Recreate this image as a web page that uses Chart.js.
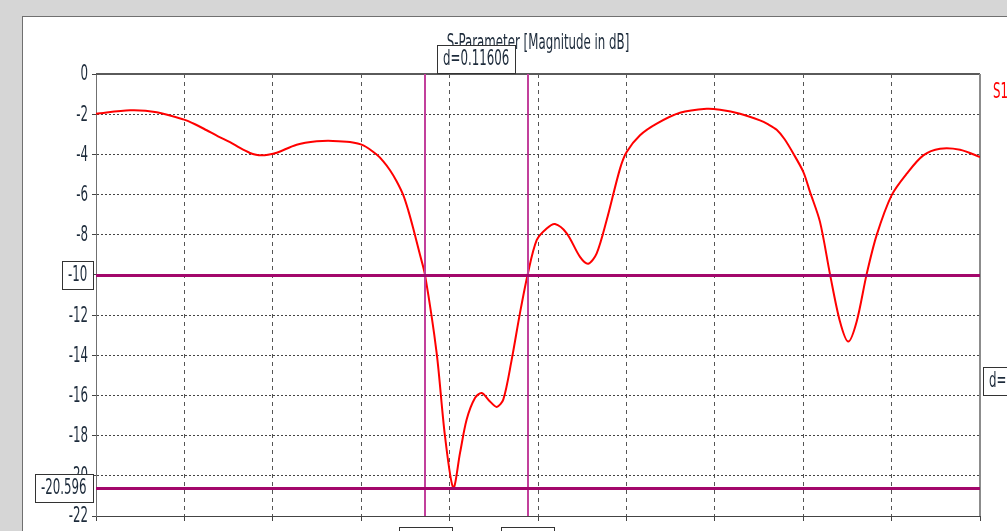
<!DOCTYPE html>
<html>
<head>
<meta charset="utf-8">
<script src="https://cdn.jsdelivr.net/npm/chart.js@4.4.1/dist/chart.umd.min.js"></script>
<style>
  html, body { margin: 0; padding: 0; }
  body { width: 1007px; height: 531px; overflow: hidden; position: relative; background: #d6d6d6; }
  #panel { position: absolute; left: 22px; top: 16px; width: 1000px; height: 530px; background: #fff;
           border-left: 1px solid #707070; border-top: 1px solid #707070; }
  #wrap { position: absolute; left: 0; top: 0; width: 1007px; height: 531px; }
</style>
</head>
<body>
<div id="panel"></div>
<div id="wrap"><canvas id="sChart" width="1007" height="531"></canvas></div>
<script>
// Данные кривой S1,1 (частота в ГГц, уровень в дБ)
const freqGHz = [
  2.000, 2.0385, 2.0687, 2.0988, 2.1120, 2.1252, 2.1380, 2.1516, 2.1629, 2.1742,
  2.1810, 2.1874, 2.1946, 2.2044, 2.2270, 2.2497, 2.2680, 2.2873, 2.3024, 2.3175,
  2.3250, 2.3326, 2.3402, 2.3476, 2.3533, 2.3589, 2.3665, 2.3722,
  2.3854, 2.3948, 2.4042, 2.4118, 2.4193, 2.4287, 2.4363, 2.4457, 2.4533, 2.4607,
  2.4702, 2.4796, 2.4882, 2.4985, 2.5098, 2.5192, 2.5325, 2.5475, 2.5569, 2.5664,
  2.5777, 2.5928, 2.6003, 2.6154, 2.6343, 2.6606, 2.6908, 2.7059, 2.7285, 2.7511,
  2.7600, 2.7700, 2.7790, 2.7888, 2.8001, 2.8077, 2.8190, 2.8303, 2.8416, 2.8510,
  2.8605, 2.8718, 2.8831, 2.9001, 2.9171, 2.9359, 2.9548, 2.9774, 3.000
];
const s11dB = [
  -1.98, -1.81, -1.90, -2.26, -2.50, -2.80, -3.10, -3.39, -3.68, -3.93,
  -4.02, -4.05, -4.02, -3.92, -3.52, -3.35, -3.33, -3.38, -3.55, -4.01,
  -4.35, -4.79, -5.35, -6.03, -6.80, -7.69, -9.00, -10.0,
  -13.9, -18.03, -20.596, -18.86, -17.2, -16.13, -15.88, -16.3, -16.57, -16.21,
  -14.23, -11.9, -10.0, -8.27, -7.69, -7.47, -7.93, -9.10, -9.44, -8.93,
  -7.27, -4.71, -3.88, -3.05, -2.47, -1.93, -1.73, -1.78, -1.98, -2.31,
  -2.50, -2.78, -3.25, -3.96, -4.87, -5.87, -7.36, -9.96, -12.32, -13.32,
  -12.32, -9.96, -8.02, -6.03, -4.96, -4.05, -3.72, -3.77, -4.13
];
const yTickValues = [0, -2, -4, -6, -8, -10, -12, -14, -16, -18, -20, -22];
const xGridFreqs = [2.0, 2.1, 2.2, 2.3, 2.4, 2.5, 2.6, 2.7, 2.8, 2.9, 3.0];
const markerFreqs = [2.3722, 2.48826];
const markerLevels = [-10, -20.596];

const FONT = '21px "DejaVu Sans Condensed", "Liberation Sans Narrow", sans-serif';
const SX = 0.625; // узкий шрифт, как на скриншоте
const TEXT_COLOR = '#1d2b3b';

// Текст со сжатием по горизонтали
function drawText(ctx, text, x, y, align, color) {
  ctx.save();
  ctx.font = FONT;
  ctx.fillStyle = color || TEXT_COLOR;
  ctx.textAlign = align;
  ctx.textBaseline = 'middle';
  ctx.translate(x, y);
  ctx.scale(SX, 1);
  ctx.fillText(text, 0, 0);
  ctx.restore();
}
function textWidth(ctx, text) {
  ctx.font = FONT;
  return ctx.measureText(text).width * SX;
}

// Прямоугольник с подписью
function drawBox(ctx, text, left, top, height) {
  const w = Math.round(textWidth(ctx, text)) + 12;
  ctx.save();
  ctx.fillStyle = '#fff';
  ctx.fillRect(left, top, w, height);
  ctx.strokeStyle = '#333';
  ctx.lineWidth = 1;
  ctx.strokeRect(left + 0.5, top + 0.5, w, height);
  ctx.restore();
  drawText(ctx, text, left + 6, top + height / 2 + 1, 'left');
  return w;
}
function boxWidth(ctx, text) {
  return Math.round(textWidth(ctx, text)) + 12;
}

const framePlugin = {
  id: 'frame',
  beforeDatasetsDraw(chart) {
    const { ctx, chartArea: a } = chart;
    ctx.save();
    ctx.strokeStyle = '#5a5a5a';
    ctx.lineWidth = 2;
    ctx.beginPath();
    ctx.moveTo(a.left, a.top);
    ctx.lineTo(a.right, a.top);
    ctx.stroke();
    ctx.strokeStyle = '#8c8c8c';
    ctx.beginPath();
    ctx.moveTo(a.right, a.top);
    ctx.lineTo(a.right, a.bottom);
    ctx.stroke();
    ctx.restore();
  }
};

const markerPlugin = {
  id: 'markers',
  afterDatasetsDraw(chart) {
    const { ctx, chartArea: a, scales: { x, y } } = chart;
    ctx.save();
    // вертикальные маркеры
    ctx.strokeStyle = '#c2409c';
    ctx.lineWidth = 2;
    markerFreqs.forEach(f => {
      const px = Math.round(x.getPixelForValue(f));
      ctx.beginPath();
      ctx.moveTo(px, a.top);
      ctx.lineTo(px, a.bottom);
      ctx.stroke();
    });
    // горизонтальные маркеры
    ctx.strokeStyle = '#a3076b';
    ctx.lineWidth = 3;
    markerLevels.forEach(v => {
      const py = Math.round(y.getPixelForValue(v)) + 0.5;
      ctx.beginPath();
      ctx.moveTo(a.left, py);
      ctx.lineTo(a.right, py);
      ctx.stroke();
    });
    ctx.restore();
  },
  afterDraw(chart) {
    const { ctx, chartArea: a, scales: { x, y } } = chart;

    // подписи оси Y
    y.ticks.forEach(t => {
      drawText(ctx, String(t.value), a.left - 8, y.getPixelForValue(t.value) + 1, 'right');
    });

    // заголовок
    drawText(ctx, 'S-Parameter [Magnitude in dB]', (a.left + a.right) / 2, 44, 'center');

    // подписи уровней
    markerLevels.forEach(v => {
      const py = y.getPixelForValue(v);
      const t = String(v);
      drawBox(ctx, t, a.left - 3 - boxWidth(ctx, t), Math.round(py) - 14, 28);
    });

    // расстояние между частотами
    const x1 = x.getPixelForValue(markerFreqs[0]);
    const x2 = x.getPixelForValue(markerFreqs[1]);
    const dText = 'd=' + (markerFreqs[1] - markerFreqs[0]).toFixed(5);
    drawBox(ctx, dText, Math.round((x1 + x2) / 2 - boxWidth(ctx, dText) / 2), a.top - 29, 28);

    // расстояние между уровнями
    const yMid = (y.getPixelForValue(markerLevels[0]) + y.getPixelForValue(markerLevels[1])) / 2;
    const lText = 'd=' + (markerLevels[0] - markerLevels[1]).toFixed(3);
    drawBox(ctx, lText, a.right + 3, Math.round(yMid) - 14, 28);

    // подписи частот внизу (видна только верхняя кромка)
    markerFreqs.forEach(f => {
      const px = x.getPixelForValue(f);
      const t = f.toFixed(4);
      drawBox(ctx, t, Math.round(px - boxWidth(ctx, t) / 2), a.bottom + 11, 34);
    });

    // легенда
    drawText(ctx, 'S1,1', a.right + 13, 93, 'left', '#ff0000');
  }
};

new Chart(document.getElementById('sChart'), {
  type: 'line',
  data: {
    datasets: [{
      label: 'S1,1',
      data: freqGHz.map((f, i) => ({ x: f, y: s11dB[i] })),
      borderColor: '#ff0000',
      borderWidth: 2,
      pointRadius: 0,
      tension: 0.3,
      fill: false
    }]
  },
  options: {
    responsive: false,
    animation: false,
    layout: { padding: { top: 74, right: 27, left: 0, bottom: 0 } },
    plugins: {
      legend: { display: false },
      tooltip: { enabled: false }
    },
    scales: {
      x: {
        type: 'linear',
        min: 2,
        max: 3,
        afterBuildTicks: s => { s.ticks = xGridFreqs.map(v => ({ value: v })); },
        afterFit: s => { s.height = 15; },
        ticks: { display: false },
        grid: { color: '#555', lineWidth: 1, tickLength: 5, tickColor: '#444', tickBorderDash: [] },
        border: { display: true, color: '#444', width: 1, dash: [4, 4] }
      },
      y: {
        min: -22,
        max: 0,
        afterBuildTicks: s => { s.ticks = yTickValues.map(v => ({ value: v })); },
        afterFit: s => { s.width = 96; },
        ticks: { display: false },
        grid: { color: '#444', lineWidth: 1, tickLength: 4, tickColor: '#444', tickBorderDash: [] },
        border: { display: true, color: '#707070', width: 1, dash: [2, 2] }
      }
    }
  },
  plugins: [framePlugin, markerPlugin]
});
</script>
</body>
</html>
